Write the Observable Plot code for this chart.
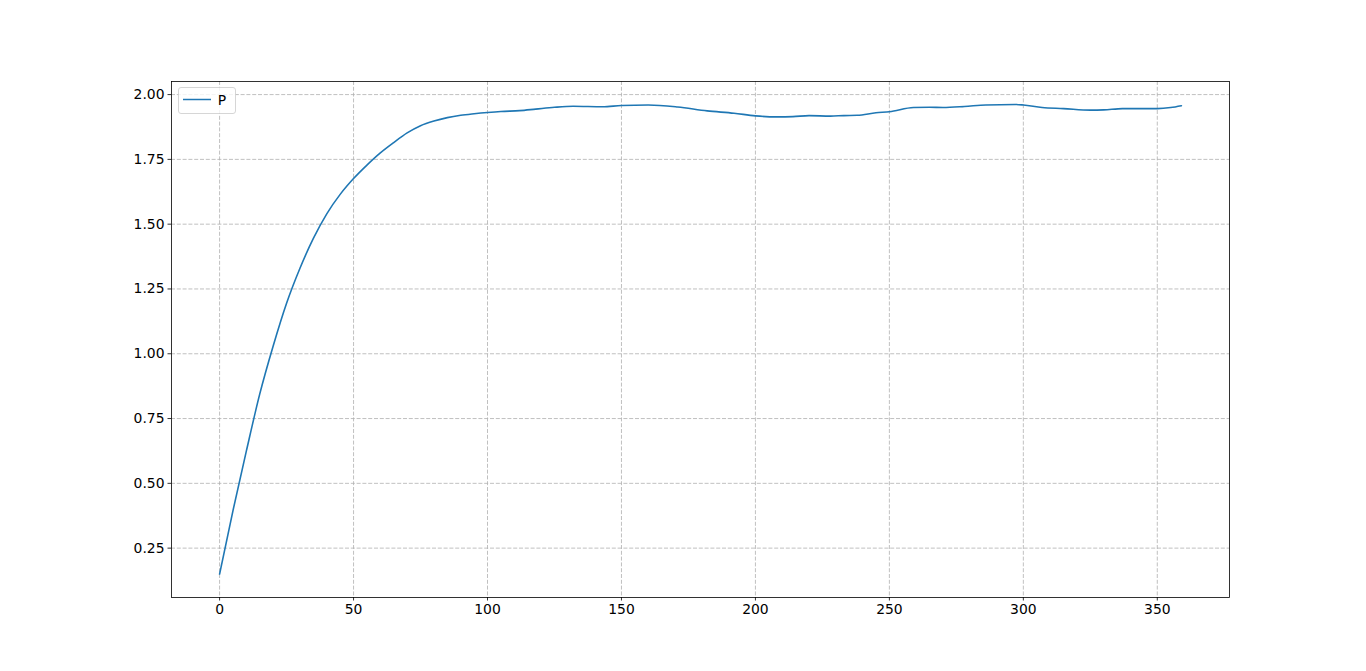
<!DOCTYPE html>
<html><head><meta charset="utf-8">
<script src="https://cdn.jsdelivr.net/npm/d3@7"></script>
<script src="https://cdn.jsdelivr.net/npm/@observablehq/plot@0.6"></script>
<style>body{margin:0;background:#fff;overflow:hidden}</style>
</head><body><div id="chart"></div><script>
const xs = [0,5,10,15,20,25,30,35,40,45,50,55,60,65,70,75,80,85,90,95,100,105,112,118,125,132,143,150,160,171,182,192,200,208,214,220,228,233,238,245,250,259,265,270,278,286,297,300,307,315,325,330,337,343,350,355,359];
const ys = [0.15,0.395,0.625,0.845,1.03,1.195,1.33,1.445,1.54,1.615,1.676,1.728,1.775,1.815,1.852,1.88,1.898,1.911,1.920,1.926,1.931,1.935,1.938,1.944,1.951,1.955,1.953,1.958,1.960,1.952,1.937,1.928,1.918,1.914,1.915,1.919,1.917,1.919,1.920,1.930,1.934,1.950,1.951,1.950,1.954,1.960,1.962,1.960,1.950,1.946,1.940,1.941,1.946,1.946,1.946,1.950,1.957];
const seriesName = "P";
const xTicks = [0,50,100,150,200,250,300,350];
const yTicks = [0.25,0.50,0.75,1.00,1.25,1.50,1.75,2.00];
const data = xs.map((x,i)=>({x, y: ys[i]}));
const gridStyle = {stroke:"#b0b0b0", strokeOpacity:1, strokeWidth:0.8, strokeDasharray:"4,1.8"};
const chart = Plot.plot({
  width:1366, height:671, marginLeft:171, marginRight:137, marginTop:81, marginBottom:74,
  style:{fontFamily:"DejaVu Sans", fontSize:"13.9px", color:"#000", background:"#fff"},
  x:{domain:[-17.95,376.95]},
  y:{domain:[0.0595,2.0505]},
  marks:[
    Plot.gridX(xTicks, gridStyle),
    Plot.gridY(yTicks, gridStyle),
    Plot.line(data,{x:"x",y:"y",stroke:"#1f77b4",strokeWidth:1.6,curve:"monotone-x"}),
    Plot.frame({stroke:"#000", strokeWidth:0.8}),
    Plot.axisX(xTicks,{tickSize:3.5, tickPadding:3.5, label:null, tickFormat:d=>String(d), fill:"#000", strokeWidth:0.8}),
    Plot.axisY(yTicks,{tickSize:3.5, tickPadding:3.5, label:null, tickFormat:d=>d.toFixed(2), fill:"#000", strokeWidth:0.8})
  ]
});
document.getElementById("chart").appendChild(chart);
// legend
const xr = chart.scale("x").range, yr = chart.scale("y").range;
const lx = Math.min(...xr) + 7, ly = Math.min(...yr) + 6;
const svg = d3.select(chart);
const g = svg.append("g").attr("transform", `translate(${lx},${ly})`);
g.append("rect").attr("x",0.5).attr("y",0.5).attr("width",57).attr("height",26).attr("rx",2.5)
  .attr("fill","#fff").attr("fill-opacity",0.8).attr("stroke","#cccccc").attr("stroke-width",0.8);
g.append("line").attr("x1",5).attr("x2",33).attr("y1",12.5).attr("y2",12.5).attr("stroke","#1f77b4").attr("stroke-width",1.5);
g.append("text").attr("x",44).attr("y",17.5).attr("font-family","DejaVu Sans").attr("font-size","13.9px").attr("fill","#000").text(seriesName);
</script></body></html>
